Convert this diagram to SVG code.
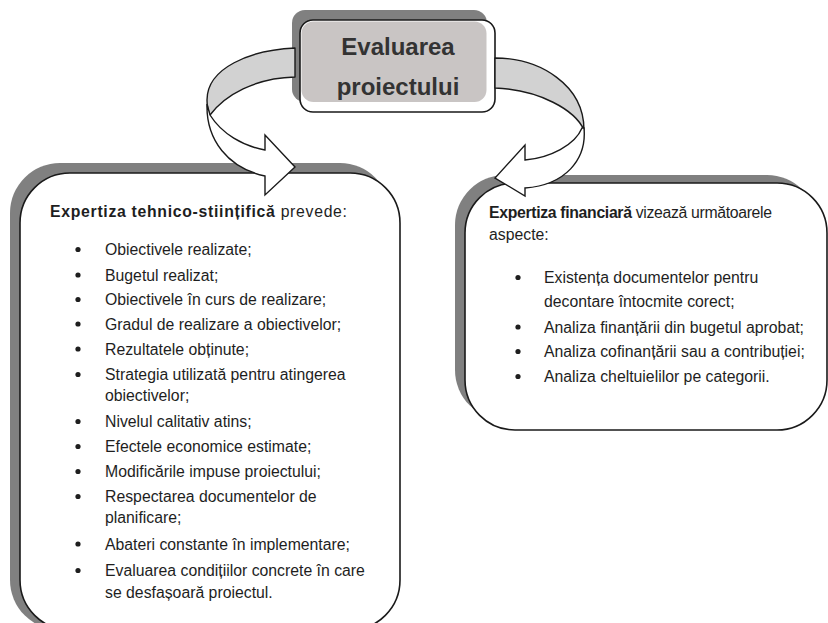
<svg xmlns="http://www.w3.org/2000/svg" width="828" height="623" viewBox="0 0 828 623">
  <style>
    .shadow { fill: #808080; }
    .box { fill: #ffffff; stroke: #1a1a1a; stroke-width: 1.6; }
    .title { font-family: "Liberation Sans", Arial, sans-serif; font-weight: bold; font-size: 24px; fill: #333333; text-anchor: middle; }
    .txt { font-family: "Liberation Sans", Arial, sans-serif; font-size: 15.8px; fill: #1e1e1e; }
    .b { font-weight: bold; }
    .dot { fill: #1e1e1e; }
    .back { fill: #d2d2d2; stroke: #1a1a1a; stroke-width: 1.4; stroke-linejoin: round; }
    .front { fill: #ffffff; stroke: #1a1a1a; stroke-width: 1.4; stroke-linejoin: miter; }
  </style>

  <rect width="828" height="623" fill="#ffffff"/>

  <!-- Title box -->
  <g id="node-title">
    <rect class="shadow" x="292" y="10" width="195" height="92" rx="13"/>
    <rect class="box" x="300" y="20" width="195" height="92" rx="13"/>
    <rect x="301.5" y="21.5" width="185" height="80.5" rx="12" fill="#c9c5c4"/>
    <text class="title" x="398" y="55">Evaluarea</text>
    <text class="title" x="398" y="95">proiectului</text>
  </g>

  <!-- Technical-scientific expertise -->
  <g id="node-tech">
    <rect class="shadow" x="10" y="163" width="380" height="467" rx="50"/>
    <rect class="box" x="20" y="173" width="380" height="457" rx="50"/>
    <text class="txt" x="50" y="217" textLength="297" lengthAdjust="spacing"><tspan class="b">Expertiza tehnico-stiințifică</tspan> prevede:</text>
    <g>
      <circle class="dot" cx="78" cy="249.5" r="2.6"/>
      <circle class="dot" cx="78" cy="275" r="2.6"/>
      <circle class="dot" cx="78" cy="299.5" r="2.6"/>
      <circle class="dot" cx="78" cy="324" r="2.6"/>
      <circle class="dot" cx="78" cy="349" r="2.6"/>
      <circle class="dot" cx="78" cy="374.5" r="2.6"/>
      <circle class="dot" cx="78" cy="421.5" r="2.6"/>
      <circle class="dot" cx="78" cy="446.5" r="2.6"/>
      <circle class="dot" cx="78" cy="471.5" r="2.6"/>
      <circle class="dot" cx="78" cy="496.5" r="2.6"/>
      <circle class="dot" cx="78" cy="544" r="2.6"/>
      <circle class="dot" cx="78" cy="570.5" r="2.6"/>
    </g>
    <text class="txt" x="105" y="255">Obiectivele realizate;</text>
    <text class="txt" x="105" y="280.5">Bugetul realizat;</text>
    <text class="txt" x="105" y="305">Obiectivele în curs de realizare;</text>
    <text class="txt" x="105" y="329.5">Gradul de realizare a obiectivelor;</text>
    <text class="txt" x="105" y="354.5">Rezultatele obținute;</text>
    <text class="txt" x="105" y="380">Strategia utilizată pentru atingerea</text>
    <text class="txt" x="105" y="401">obiectivelor;</text>
    <text class="txt" x="105" y="427">Nivelul calitativ atins;</text>
    <text class="txt" x="105" y="452">Efectele economice estimate;</text>
    <text class="txt" x="105" y="477">Modificările impuse proiectului;</text>
    <text class="txt" x="105" y="502">Respectarea documentelor de</text>
    <text class="txt" x="105" y="523">planificare;</text>
    <text class="txt" x="105" y="549.5">Abateri constante în implementare;</text>
    <text class="txt" x="105" y="576">Evaluarea condițiilor concrete în care</text>
    <text class="txt" x="105" y="598">se desfașoară proiectul.</text>
  </g>

  <!-- Financial expertise -->
  <g id="node-fin">
    <rect class="shadow" x="455" y="175" width="362" height="245" rx="50"/>
    <rect class="box" x="465" y="183" width="362" height="247" rx="50"/>
    <text class="txt" x="489" y="218" textLength="283" lengthAdjust="spacing"><tspan class="b">Expertiza financiară</tspan> vizează următoarele</text>
    <text class="txt" x="489" y="240">aspecte:</text>
    <g>
      <circle class="dot" cx="518" cy="277.5" r="2.6"/>
      <circle class="dot" cx="518" cy="327" r="2.6"/>
      <circle class="dot" cx="518" cy="351.5" r="2.6"/>
      <circle class="dot" cx="518" cy="376.5" r="2.6"/>
    </g>
    <text class="txt" x="544" y="283">Existența documentelor pentru</text>
    <text class="txt" x="544" y="306.5">decontare întocmite corect;</text>
    <text class="txt" x="544" y="332.5">Analiza finanțării din bugetul aprobat;</text>
    <text class="txt" x="544" y="357">Analiza cofinanțării sau a contribuției;</text>
    <text class="txt" x="544" y="382">Analiza cheltuielilor pe categorii.</text>
  </g>

  <!-- Curved ribbon arrows from the title to both expertise boxes -->
  <g id="connectors">
    <!-- left ribbon -->
    <path class="back" d="M295,48 C250,50 207,68 207,100 C207,106 208,111 210,115 C225,95 255,78 295,77 Z"/>
    <path class="front" d="M207,104 C206,140 228,168 265,176 L265,195 L295,167 L265,135 L265,150 C243,146 222,134 210,115 Z"/>
    <!-- right ribbon -->
    <path class="back" d="M495,58 C540,58 584,85 584,130 C575,110 540,90 495,88 Z"/>
    <path class="front" d="M584,128 C587,160 565,185 525,188 L525,196 L495,178 L525,145 L525,160 C550,158 575,145 582,128 Z"/>
  </g>
</svg>
